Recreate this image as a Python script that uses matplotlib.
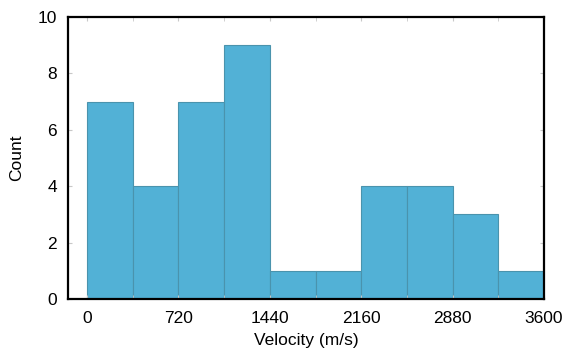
import matplotlib
matplotlib.use("Agg")
import matplotlib.pyplot as plt
import numpy as np

bin_edges = [0, 360, 720, 1080, 1440, 1800, 2160, 2520, 2880, 3240, 3600]
counts = [7, 4, 7, 9, 1, 1, 4, 4, 3, 1]
xticks = [0, 720, 1440, 2160, 2880, 3600]
yticks = [0, 2, 4, 6, 8, 10]

plt.rcParams['font.family'] = ['Liberation Sans', 'DejaVu Sans']
fig = plt.figure(figsize=(5.64, 3.52), dpi=100)
ax = fig.add_axes([0.1206, 0.1506, 0.9645 - 0.1206, 0.9517 - 0.1506])

lefts = bin_edges[:-1]
widths = np.diff(bin_edges)
ax.bar(lefts, counts, width=widths, align='edge', color='#52b1d6',
       edgecolor='#4a93ad', linewidth=0.8)

ax.set_xlim(-150, 3600)
ax.set_ylim(0, 10)
ax.set_xticks(xticks)
ax.set_xticks(bin_edges, minor=True)
ax.set_yticks(yticks)
ax.tick_params(axis='both', which='both', direction='in', color='#c8c8c8',
               top=True, right=True, labelsize=12.5)
ax.tick_params(axis='x', pad=9)
ax.tick_params(axis='y', pad=8)
ax.tick_params(which='major', length=3)
ax.tick_params(which='minor', length=3)
for s in ax.spines.values():
    s.set_linewidth(1.6)
    s.set_color('black')
ax.set_xlabel('Velocity (m/s)', fontsize=12.5, labelpad=5)
ax.set_ylabel('Count', fontsize=12.5, labelpad=10)

fig.savefig('out.png', dpi=100)
